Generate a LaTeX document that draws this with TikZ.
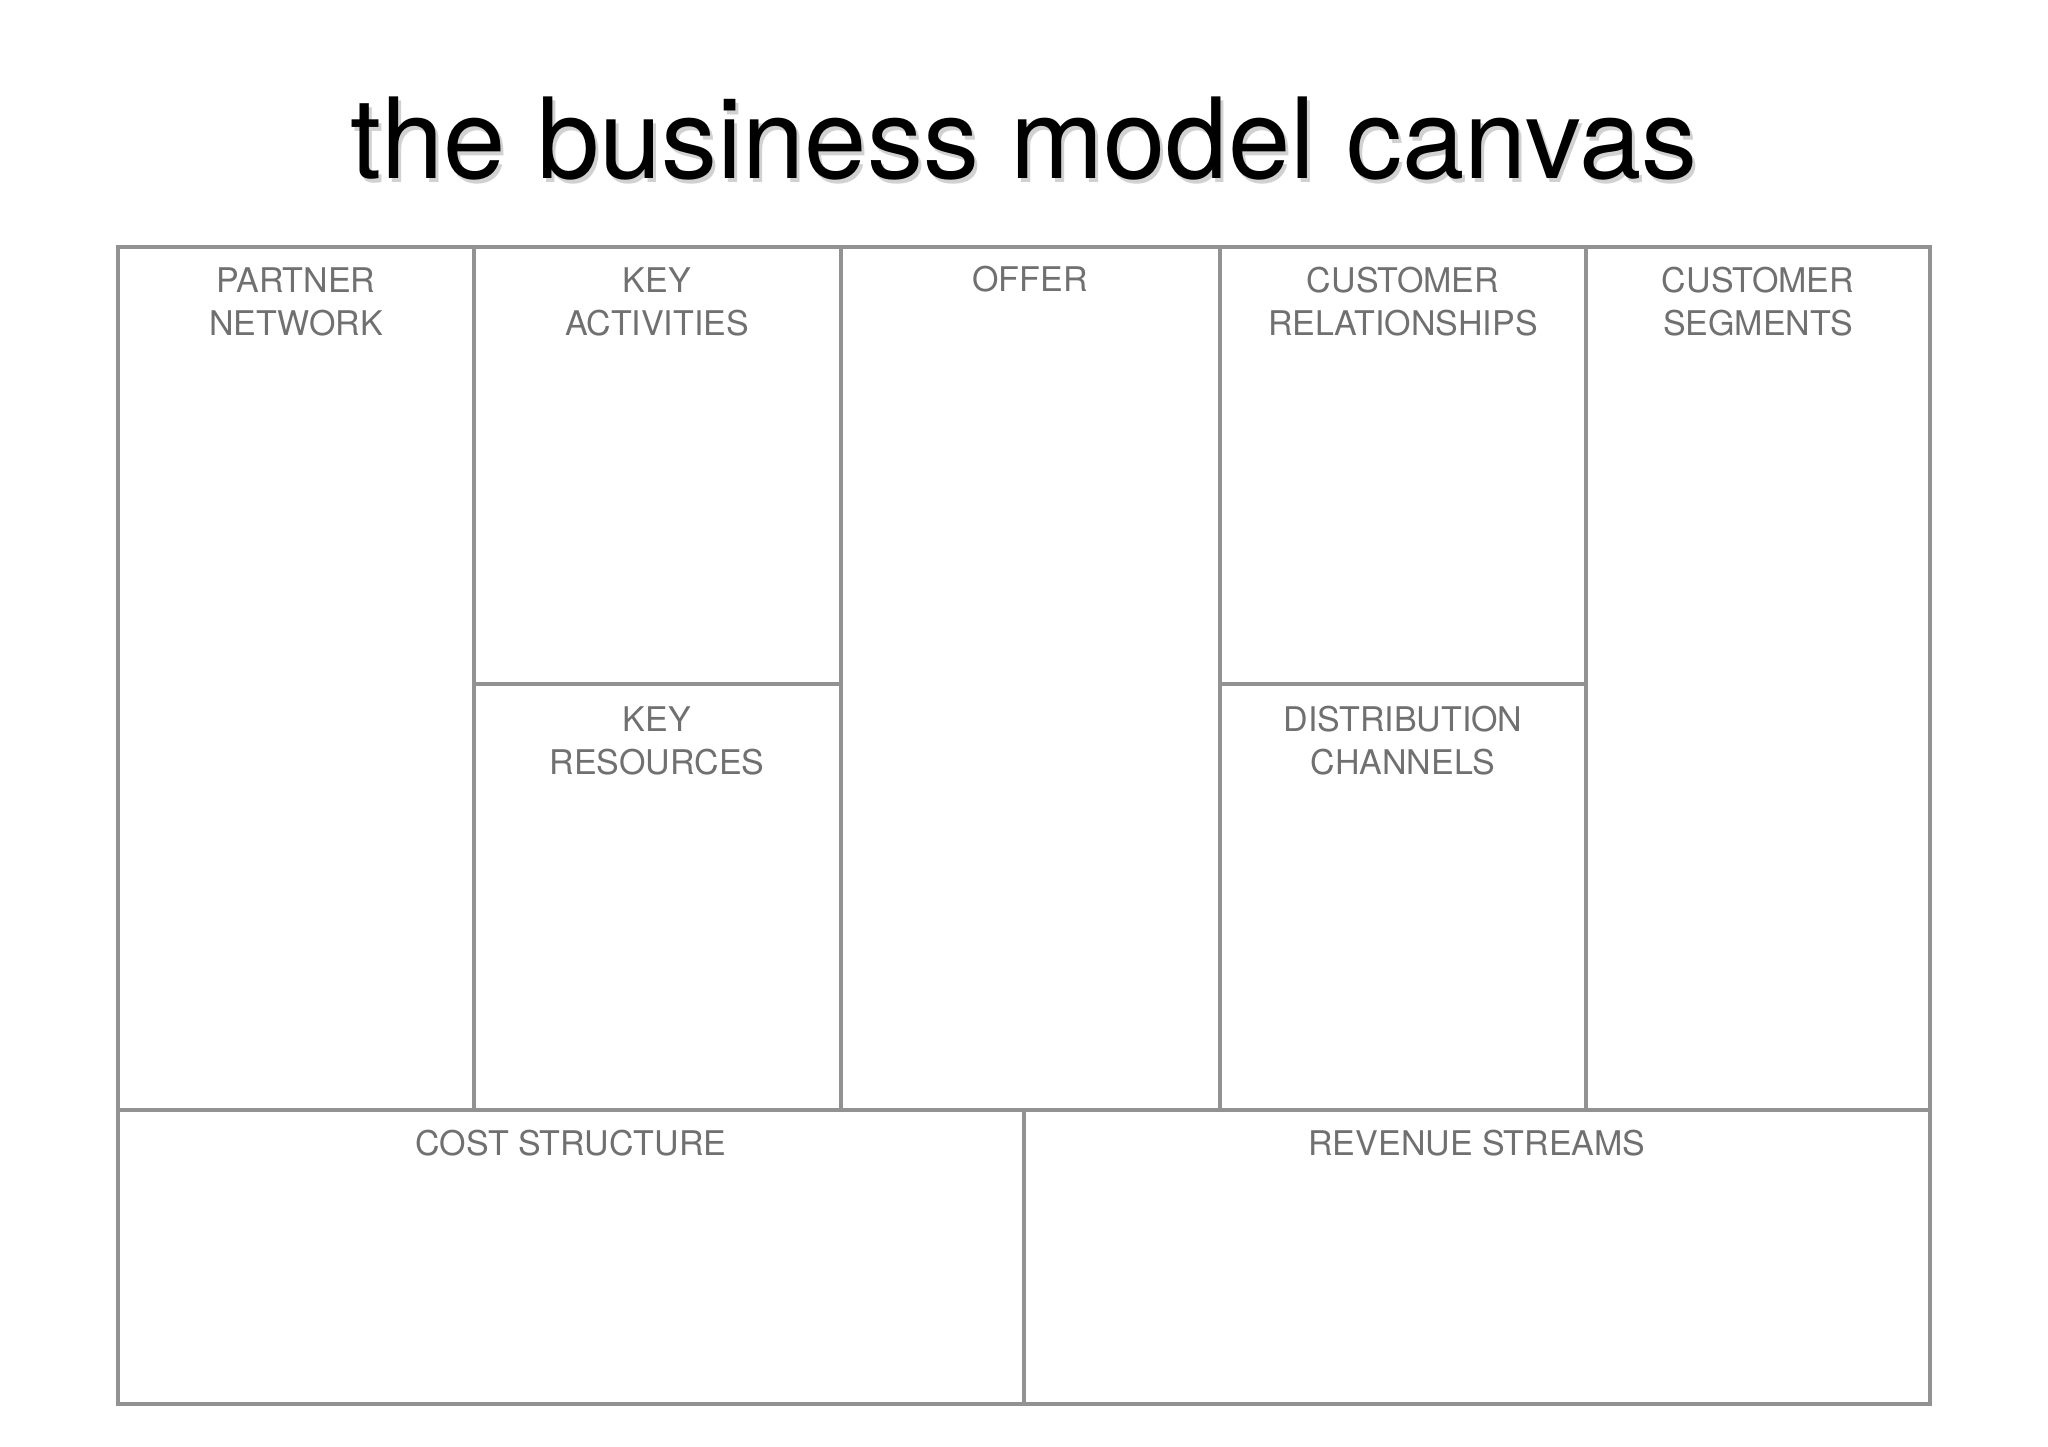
\documentclass[tikz,border=0pt]{standalone}
\usepackage{fontspec}
\setmainfont{TeX Gyre Heros}
\definecolor{gridgray}{RGB}{146,146,146}
\definecolor{labelgray}{RGB}{112,112,112}
\tikzset{gridline/.style={draw=gridgray, line width=4.5pt, line join=miter},
    cell label/.style={anchor=base, align=center, inner sep=0pt, text=labelgray,
        font=\fontsize{34}{43}\selectfont},
    }

\begin{document}
\begin{tikzpicture}[x=1pt,y=-1pt]
\useasboundingbox (0,0) rectangle (2048,1447);
% title with its soft shadow
\node (shadow) [anchor=base, inner sep=0pt, text=black!30, opacity=0.6,
    font=\fontsize{112}{120}\selectfont] at (1027,183) {the business model canvas};
\node (title) [anchor=base, inner sep=0pt, font=\fontsize{112}{120}\selectfont]
    at (1024,179) {the business model canvas};
% the grid
\draw[gridline] (118,247) rectangle (1930,1404);
\draw[gridline] (474,247) -- (474,1110) (841,247) -- (841,1110)
    (1220,247) -- (1220,1110) (1586,247) -- (1586,1110);
\draw[gridline] (474,684) -- (841,684) (1220,684) -- (1586,684);
\draw[gridline] (118,1110) -- (1930,1110) (1024,1110) -- (1024,1404);
% the labels (base is the last line)
\node (partner) [cell label] at (296,335) {PARTNER\\NETWORK};
\node (activities) [cell label] at (657,335) {KEY\\ACTIVITIES};
\node (resources) [cell label] at (657,774) {KEY\\RESOURCES};
\node (offer) [cell label] at (1030,292) {OFFER};
\node (relations) [cell label] at (1403,335) {CUSTOMER\\RELATIONSHIPS};
\node (channels) [cell label] at (1403,774) {DISTRIBUTION\\CHANNELS};
\node (segments) [cell label] at (1758,335) {CUSTOMER\\SEGMENTS};
\node (cost) [cell label] at (571,1155) {COST STRUCTURE};
\node (revenue) [cell label] at (1477,1155) {REVENUE STREAMS};
\end{tikzpicture}
\end{document}
